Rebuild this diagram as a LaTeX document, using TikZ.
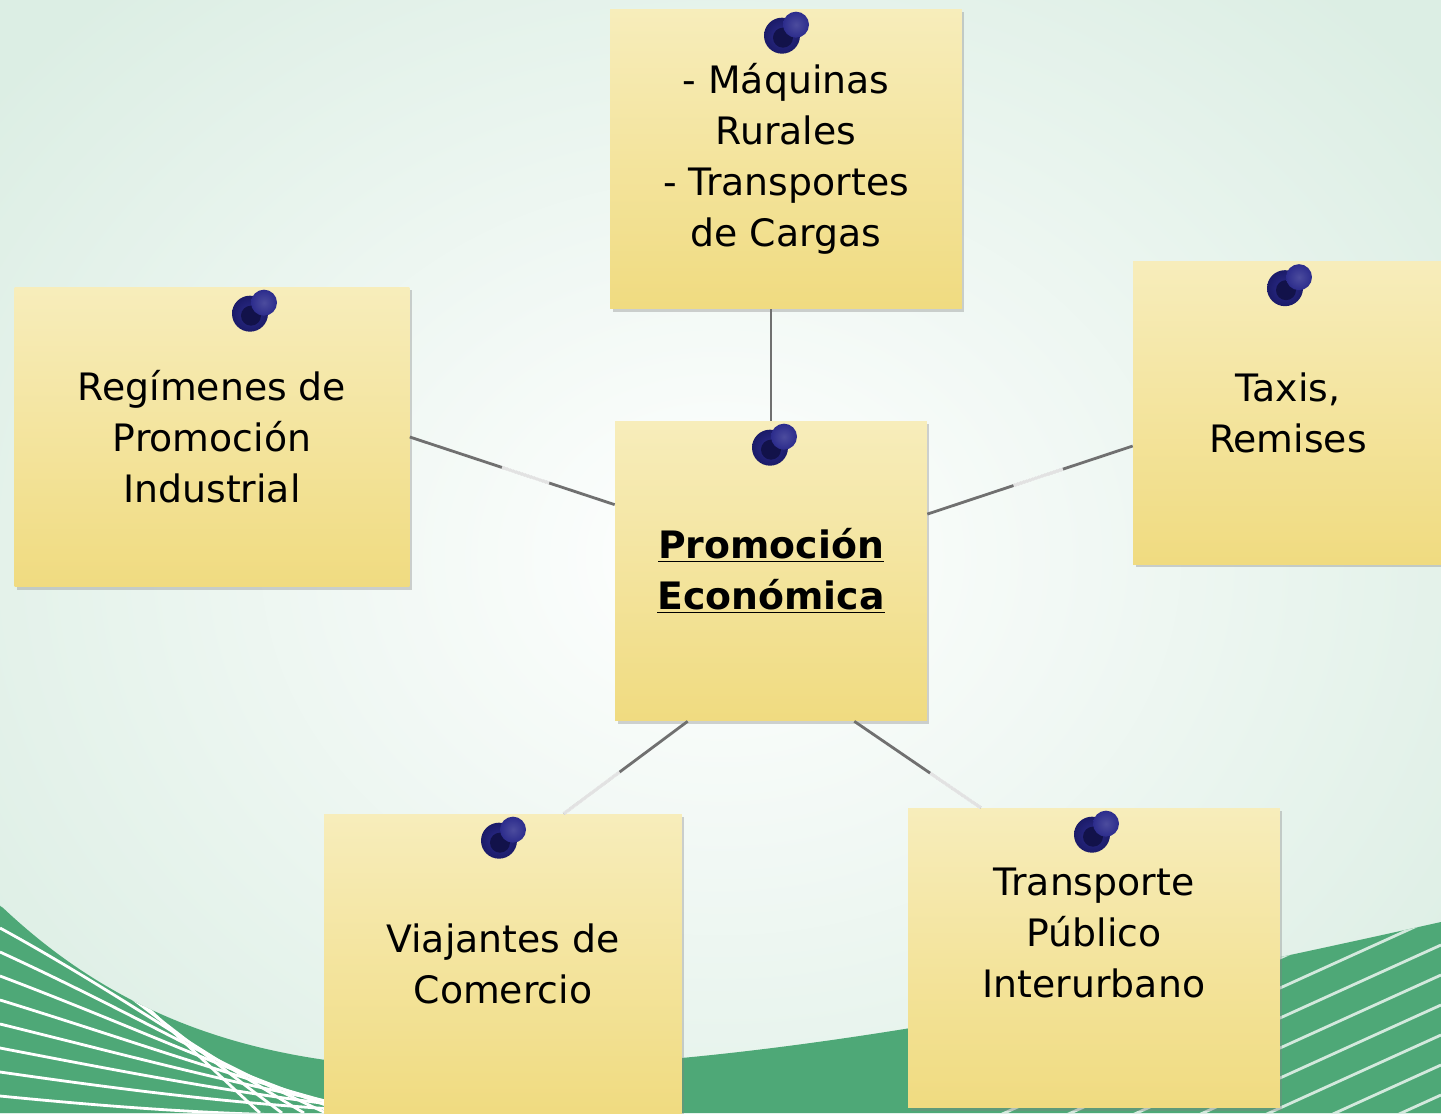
\documentclass[tikz,border=0pt]{standalone}
\usepackage{fontspec}
\setmainfont{DejaVu Sans}
\usetikzlibrary{shadows,calc}
\definecolor{noteTop}{HTML}{F7EDBB}
\definecolor{noteBottom}{HTML}{F0DB80}
\definecolor{pinDark}{HTML}{1B1B68}
\definecolor{pinCore}{HTML}{12124A}
\definecolor{pinHead}{HTML}{2C2C8C}
\definecolor{bgEdge}{HTML}{DCEEE4}
\definecolor{waveGreen}{HTML}{4EA877}
\definecolor{linkGray}{HTML}{707070}
\tikzstyle{note} = [rectangle, top color=noteTop, bottom color=noteBottom,
    align=center, minimum height=6cm, font=\fontsize{21.5}{29}\selectfont,
    drop shadow={shadow xshift=0.05cm, shadow yshift=-0.06cm, opacity=0.35}]
\tikzstyle{link} = [draw=linkGray, line width=1.6pt]
\tikzstyle{glare} = [white, line width=1.9pt, opacity=0.8]
\tikzstyle{stripe} = [white, line width=1.6pt]
\newcommand{\thumbtack}[2][0]{%
  \coordinate (tack) at ($(#2.north)+(#1,27)$);
  \shade[inner color=pinHead, outer color=pinDark] (tack) circle (18);
  \fill[pinCore] ($(tack)+(1,2)$) circle (10);
  \shade[inner color=pinHead!85!white, outer color=pinHead] ($(tack)+(14,-11)$) circle (13);
}

\begin{document}
\begin{tikzpicture}[x=0.02cm, y=-0.02cm]
	\useasboundingbox (0,0) rectangle (1441,1113);
	\clip (0,0) rectangle (1441,1113);
% Background
	\shade[inner color=white, outer color=bgEdge] (-200,-200) rectangle (1641,1313);
	\begin{scope}
		\path[clip] (0,1113) -- (0,905) .. controls (110,1010) and (240,1062) .. (420,1068)
			.. controls (700,1075) and (1000,1020) .. (1441,922) -- (1441,1113) -- cycle;
		\fill[waveGreen] (0,850) rectangle (1441,1113);
		\foreach \k in {0,...,9}
			\draw[stripe] (0,{880+\k*24}) .. controls ({90+\k*8},{950+\k*18}) and ({170+\k*14},{1030+\k*10}) .. ({260+\k*22},1113);
		\foreach \k in {0,...,8}
			\draw[stripe, white!75!waveGreen] (1000,{1085+\k*30}) -- (1441,{885+\k*30});
	\end{scope}
% Nodes
	\node [note, minimum width=6.24cm] (promo) at (771,571) {\textbf{\underline{Promoción}}\\\textbf{\underline{Económica}}};
	\node [note, minimum width=7.04cm] (maquinas) at (786,159) {- Máquinas\\Rurales\\- Transportes\\de Cargas};
	\node [note, minimum width=7.9cm] (regimenes) at (212,437) {Regímenes de\\Promoción\\Industrial};
	\node [note, minimum width=6.2cm, minimum height=6.06cm] (taxis) at (1288,413) {Taxis,\\Remises};
	\node [note, minimum width=7.16cm] (viajantes) at (503,964) {Viajantes de\\Comercio};
	\node [note, minimum width=7.44cm] (transporte) at (1094,958) {Transporte\\Público\\Interurbano\\\mbox{}};
% Connections
	\draw [link] (promo.north |- maquinas.south) -- (promo.north);
	\draw [link] (regimenes.east) -- (promo.157);
	\draw [glare] ($(regimenes.east)!0.45!(promo.157)$) -- ($(regimenes.east)!0.68!(promo.157)$);
	\draw [link] (promo.20) -- (taxis.192);
	\draw [glare] ($(promo.20)!0.42!(taxis.192)$) -- ($(promo.20)!0.66!(taxis.192)$);
	\draw [link] (promo.241) -- (viajantes.68);
	\draw [glare] ($(promo.241)!0.55!(viajantes.68)$) -- (viajantes.68);
	\draw [link] (promo.299) -- (transporte.127);
	\draw [glare] ($(promo.299)!0.6!(transporte.127)$) -- (transporte.127);
% Pins
	\thumbtack[-4]{maquinas}
	\thumbtack[38]{regimenes}
	\thumbtack[-3]{taxis}
	\thumbtack[-1]{promo}
	\thumbtack[-4]{viajantes}
	\thumbtack[-2]{transporte}
\end{tikzpicture}
\end{document}
